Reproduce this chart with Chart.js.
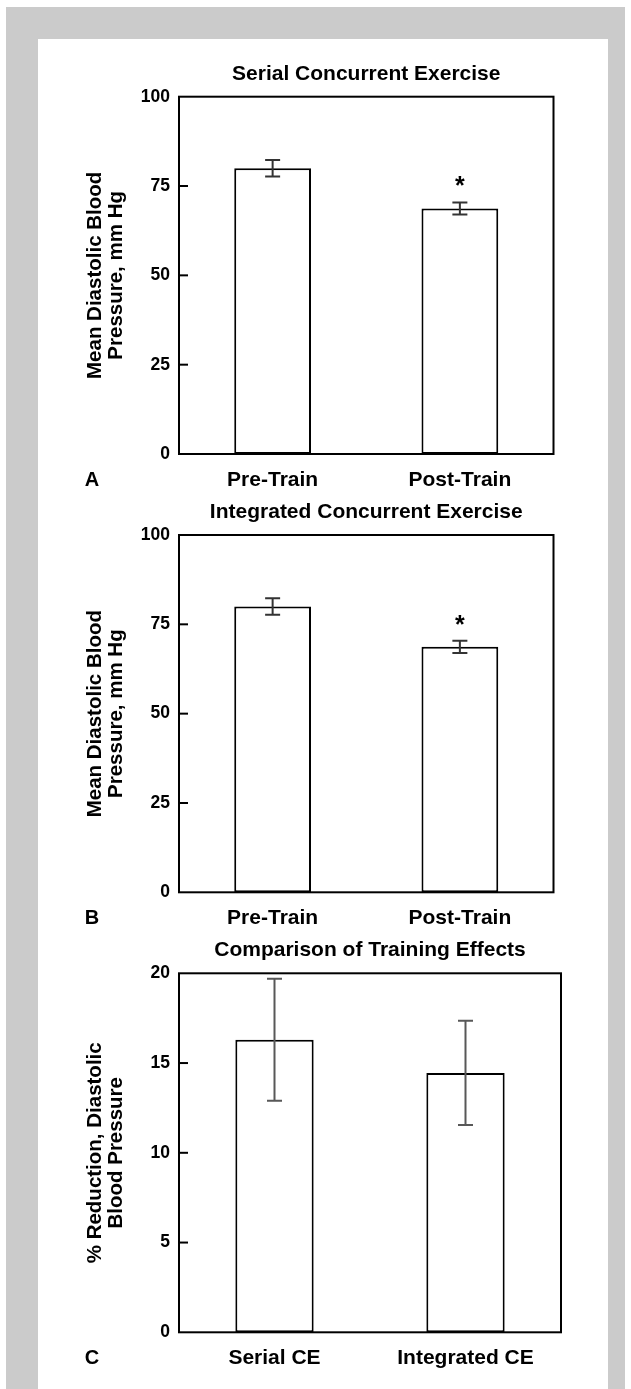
<!DOCTYPE html>
<html>
<head>
<meta charset="utf-8">
<title>Diastolic Blood Pressure and Concurrent Exercise</title>
<script src="https://cdn.jsdelivr.net/npm/chart.js@4.4.1/dist/chart.umd.min.js"></script>
<style>
  html, body { margin: 0; padding: 0; background: #ffffff; }
  body { width: 631px; height: 1389px; position: relative; overflow: hidden; }
  #frame { position: absolute; left: 6px; top: 7px; width: 619px; height: 1382px; background: #cbcbcb; }
  #panel { position: absolute; left: 38px; top: 39px; width: 570px; height: 1350px; background: #ffffff; }
  canvas { position: absolute; left: 38px; }
</style>
</head>
<body>
<div id="frame"></div>
<div id="panel"></div>
<canvas id="chartA" width="570" height="470" style="top:40px"></canvas>
<canvas id="chartB" width="570" height="470" style="top:478px"></canvas>
<canvas id="chartC" width="570" height="472" style="top:917px"></canvas>
<script>
// ---- data ----
const pressureLabels = ['Pre-Train', 'Post-Train'];
const pressureTicks = [0, 25, 50, 75, 100];

const serialPressure = [80, 68.7];
const serialPressureErr = [2.3, 1.7];
const serialSignificant = [false, true];

const integratedPressure = [80, 68.7];
const integratedPressureErr = [2.3, 1.7];
const integratedSignificant = [false, true];

const reductionLabels = ['Serial CE', 'Integrated CE'];
const reductionTicks = [0, 5, 10, 15, 20];
const reductionPercent = [16.3, 14.45];
const reductionPercentErr = [3.4, 2.9];
const reductionSignificant = [false, false];

// ---- styling ----
const FONT = '"Liberation Sans", Arial, Helvetica, sans-serif';
Chart.defaults.font.family = FONT;
Chart.defaults.color = '#000000';

// Box frame, inward y ticks, error bars, significance marks and panel letter
const panelDecor = {
  id: 'panelDecor',
  afterDatasetsDraw(chart, args, opts) {
    const { ctx, chartArea: a } = chart;
    const yScale = chart.scales.y;
    const ds = chart.data.datasets[0];
    const meta = chart.getDatasetMeta(0);
    ctx.save();

    // error bars
    ctx.strokeStyle = opts.errorColor;
    ctx.lineWidth = opts.errorWidth;
    const cap = 7.5;
    meta.data.forEach((bar, i) => {
      const v = ds.data[i], e = ds.errors[i];
      const top = yScale.getPixelForValue(v + e);
      const bot = yScale.getPixelForValue(v - e);
      ctx.beginPath();
      ctx.moveTo(bar.x, top); ctx.lineTo(bar.x, bot);
      ctx.moveTo(bar.x - cap, top); ctx.lineTo(bar.x + cap, top);
      ctx.moveTo(bar.x - cap, bot); ctx.lineTo(bar.x + cap, bot);
      ctx.stroke();
      if (ds.significant[i]) {
        ctx.fillStyle = '#000000';
        ctx.font = 'bold 25px ' + FONT;
        ctx.textAlign = 'center';
        ctx.textBaseline = 'alphabetic';
        ctx.fillText('*', bar.x, top - 8);
      }
    });

    // inward tick marks on the value axis
    ctx.strokeStyle = '#000000';
    ctx.lineWidth = 2;
    yScale.ticks.forEach(t => {
      if (t.value > yScale.min && t.value < yScale.max) {
        const py = yScale.getPixelForValue(t.value);
        ctx.beginPath();
        ctx.moveTo(a.left, py);
        ctx.lineTo(a.left + 9, py);
        ctx.stroke();
      }
    });

    // plot frame
    ctx.strokeRect(a.left, a.top, a.right - a.left, a.bottom - a.top);

    // panel letter
    ctx.fillStyle = '#000000';
    ctx.font = 'bold 20px ' + FONT;
    ctx.textAlign = 'center';
    ctx.textBaseline = 'middle';
    ctx.fillText(opts.letter, opts.letterX, a.bottom + 26);
    ctx.restore();
  }
};

function makeChart(id, cfg) {
  const ticks = cfg.ticks;
  return new Chart(document.getElementById(id), {
    type: 'bar',
    data: {
      labels: cfg.labels,
      datasets: [{
        data: cfg.values,
        errors: cfg.errors,
        significant: cfg.significant,
        backgroundColor: '#ffffff',
        borderColor: '#000000',
        borderWidth: 2,
        borderSkipped: false,
        barPercentage: 0.41,
        categoryPercentage: 1
      }]
    },
    options: {
      responsive: false,
      devicePixelRatio: 1,
      animation: false,
      events: [],
      layout: { padding: { left: 0, right: cfg.padRight, top: 0, bottom: 0 } },
      plugins: {
        legend: { display: false },
        tooltip: { enabled: false },
        title: {
          display: true,
          text: cfg.title,
          fullSize: false,
          color: '#000000',
          font: { size: 21, weight: 'bold', lineHeight: 1.2 },
          padding: { top: cfg.titleCenter - 12.6, bottom: cfg.plotTop - cfg.titleCenter - 12.6 }
        },
        panelDecor: {
          letter: cfg.letter,
          letterX: 54,
          errorColor: cfg.errorColor,
          errorWidth: 2
        }
      },
      scales: {
        x: {
          grid: { display: false, drawTicks: false },
          border: { display: false },
          ticks: { color: '#000000', font: { size: 21, weight: 'bold', lineHeight: 1.2 }, padding: 13.4 },
          afterFit(scale) { scale.height = cfg.canvasHeight - cfg.plotBottom; }
        },
        y: {
          min: ticks[0],
          max: ticks[ticks.length - 1],
          ticks: {
            stepSize: ticks[1] - ticks[0],
            color: '#000000',
            font: { size: 17.5, weight: 'bold' },
            padding: 9
          },
          grid: { display: false, drawTicks: false },
          border: { display: false },
          title: {
            display: true,
            text: cfg.axisTitle,
            color: '#000000',
            font: { size: 20.5, weight: 'bold', lineHeight: 1.05 },
            padding: { top: 46.2, bottom: 0 }
          },
          afterFit(scale) { scale.width = 141; }
        }
      }
    },
    plugins: [panelDecor]
  });
}

makeChart('chartA', {
  labels: pressureLabels, values: serialPressure, errors: serialPressureErr,
  significant: serialSignificant, ticks: pressureTicks,
  title: 'Serial Concurrent Exercise', letter: 'A',
  axisTitle: ['Mean Diastolic Blood', 'Pressure, mm Hg'],
  canvasHeight: 470, plotTop: 56.7, plotBottom: 414, titleCenter: 34, padRight: 54.5,
  errorColor: '#333333'
});

makeChart('chartB', {
  labels: pressureLabels, values: integratedPressure, errors: integratedPressureErr,
  significant: integratedSignificant, ticks: pressureTicks,
  title: 'Integrated Concurrent Exercise', letter: 'B',
  axisTitle: ['Mean Diastolic Blood', 'Pressure, mm Hg'],
  canvasHeight: 470, plotTop: 57, plotBottom: 414.3, titleCenter: 34, padRight: 54.5,
  errorColor: '#333333'
});

makeChart('chartC', {
  labels: reductionLabels, values: reductionPercent, errors: reductionPercentErr,
  significant: reductionSignificant, ticks: reductionTicks,
  title: 'Comparison of Training Effects', letter: 'C',
  axisTitle: ['% Reduction, Diastolic', 'Blood Pressure'],
  canvasHeight: 472, plotTop: 56.3, plotBottom: 415.3, titleCenter: 33.7, padRight: 47,
  errorColor: '#585858'
});
</script>
</body>
</html>
